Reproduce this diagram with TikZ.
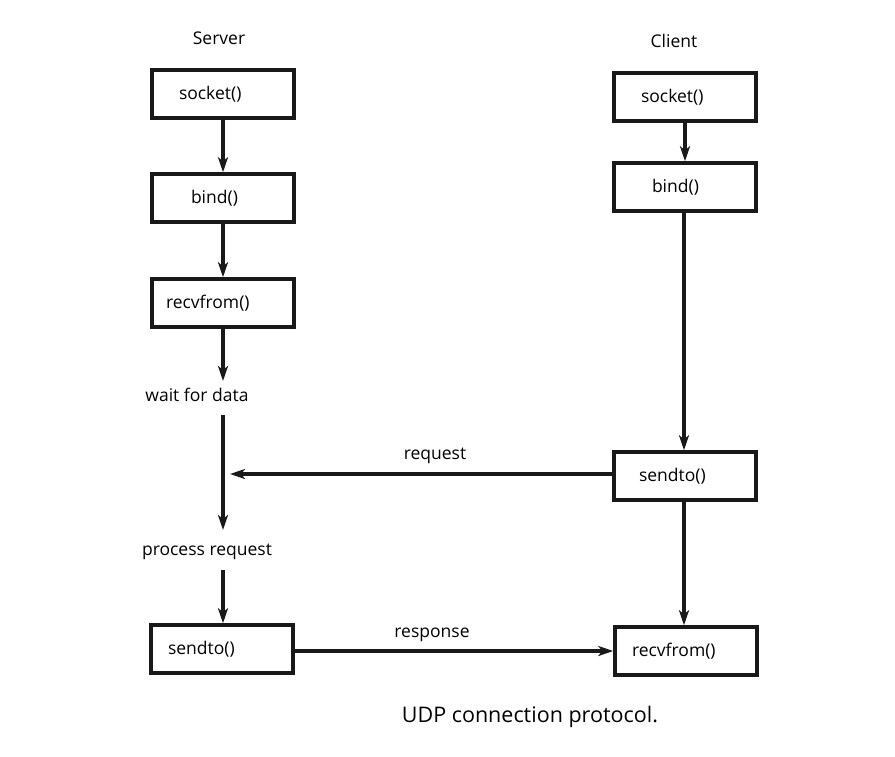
\documentclass[tikz,border=0pt]{standalone}
\usepackage{fontspec}
\setmainfont{Open Sans}
\usetikzlibrary{arrows.meta}
\begin{document}
\begin{tikzpicture}[x=1pt,y=-1pt,
  box/.style={draw=black!90, line width=3.5pt, minimum height=48pt, text width=142pt, inner xsep=0pt, align=left, font=\fontsize{17.5}{19}\selectfont},
  lbl/.style={font=\fontsize{17.5}{19}\selectfont, inner sep=1pt},
  conn/.style={line width=3.5pt, draw=black!90, -{Stealth[length=15pt,width=10pt,inset=4pt]}}]
\useasboundingbox (0,0) rectangle (895,756);
% titles
\node[lbl] (srv) at (219,38) {Server};
\node[lbl] (cli) at (674,41) {Client};
% server column
\node[box] (ssock) at (223,94) {\hspace*{27pt}socket()};
\node[box] (sbind) at (223,198) {\hspace*{39pt}bind()};
\node[box] (srecv) at (223,303) {\hspace*{14pt}recvfrom()};
\node[lbl] (wait) at (197,395) {wait for data};
\node[lbl] (proc) at (207,552) {process request};
\node[box] (ssend) at (222,649) {\hspace*{17pt}sendto()};
% client column
\node[box] (csock) at (685,97) {\hspace*{27pt}socket()};
\node[box] (cbind) at (685,187) {\hspace*{38pt}bind()};
\node[box] (csend) at (685,476) {\hspace*{25pt}sendto()};
\node[box] (crecv) at (686,651) {\hspace*{17pt}recvfrom()};
% connectors
\draw[conn] (ssock.south) -- (sbind.north);
\draw[conn] (sbind.south) -- (srecv.north);
\draw[conn] (srecv.south) -- (srecv.south |- 0,381);
\coordinate (wbot) at (223,415);
\coordinate (ptop) at (223,530);
\draw[conn] (wbot) -- (ptop);
\coordinate (pbot) at (223,570);
\draw[conn] (pbot) -- (ssend.north -| pbot);
\draw[conn] (csock.south) -- (cbind.north);
\draw[conn] (cbind.south -| 684,0) -- (csend.north -| 684,0);
\draw[conn] (csend.south -| 684,0) -- (crecv.north -| 684,0);
\coordinate (reqend) at (230,474);
\draw[conn] (csend.west |- reqend) -- (reqend);
\draw[conn] (ssend.east |- 0,651) -- (crecv.west |- 0,651);
\node[lbl] (req) at (435,456) {request};
\node[lbl] (resp) at (432,635) {response};
\node[font=\fontsize{21.5}{23}\selectfont, inner sep=1pt] (cap) at (530,717) {UDP connection protocol.};
\end{tikzpicture}
\end{document}
